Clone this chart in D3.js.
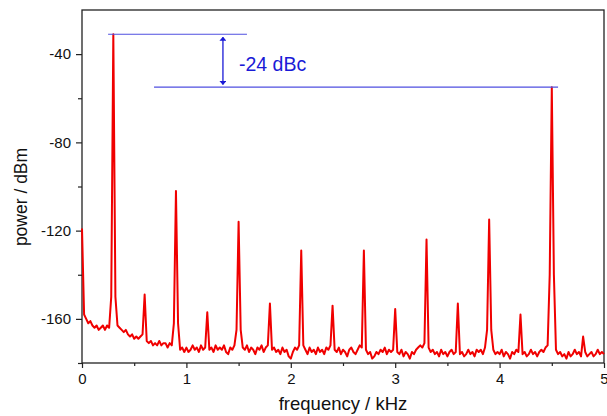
<!DOCTYPE html>
<html>
<head>
<meta charset="utf-8">
<script src="https://cdn.jsdelivr.net/npm/d3@7"></script>
<style>
  body { margin: 0; background: #fff; }
  text { font-family: Arial, "Liberation Sans", sans-serif; }
</style>
</head>
<body>
<div id="graph"></div>
<script>
/* spectrum trace, one value every 0.02 kHz from 0 to 5 kHz */
const fStep = 0.02;
const power = [
  -119, -158, -160, -162, -161, -163, -164, -163, -165, -164,
  -163, -165, -163, -164, -150,  -31, -150, -163, -164, -165,
  -166, -165, -167, -168, -167, -169, -168, -169, -168, -167,
  -149, -170, -171, -170, -172, -171, -172, -170, -172, -171,
  -171, -173, -171, -172, -162, -102, -162, -174, -173, -175,
  -173, -175, -174, -172, -174, -173, -175, -172, -174, -173,
  -157, -174, -173, -175, -172, -174, -173, -174, -172, -175,
  -176, -173, -174, -172, -165, -116, -165, -173, -174, -172,
  -175, -173, -174, -176, -173, -174, -172, -175, -173, -172,
  -153, -174, -173, -175, -174, -176, -173, -175, -174, -177,
  -178, -175, -173, -174, -172, -129, -172, -174, -176, -173,
  -175, -174, -176, -173, -175, -174, -176, -173, -174, -172,
  -154, -174, -175, -173, -176, -174, -175, -177, -174, -173,
  -175, -176, -174, -172, -173, -129, -174, -176, -175, -178,
  -177, -175, -176, -174, -175, -173, -176, -174, -175, -174,
  -155.5, -175, -176, -174, -177, -175, -176, -178, -175, -176,
  -174, -173, -172, -173, -171, -124, -173, -175, -174, -176,
  -175, -177, -174, -176, -175, -177, -175, -174, -176, -175,
  -153, -176, -175, -177, -176, -174, -176, -175, -177, -174,
  -175, -174, -176, -173, -165, -115, -165, -174, -176, -175,
  -176, -174, -177, -175, -176, -178, -175, -176, -174, -175,
  -158, -176, -175, -177, -176, -174, -176, -175, -177, -175,
  -174, -175, -173, -172, -140,  -55, -140, -174, -176, -175,
  -177, -176, -178, -175, -177, -176, -174, -176, -175, -177,
  -168, -175, -177, -176, -175, -177, -176, -174, -176, -175,
  -176
];

const xTicks = [0, 1, 2, 3, 4, 5];
const xMinor = [0.5, 1.5, 2.5, 3.5, 4.5];
const yTicks = [-160, -120, -80, -40];
const yMinor = [-180, -140, -100, -60];

/* the -24 dBc marker */
const refLevels = [-31, -55];
const refStart = [0.25, 0.69];
const refEnd = [1.58, 4.56];
const arrowFreq = 1.35;
const arrowEnds = [-32.3, -53.8];
const dbcLabel = "-24 dBc";

const W = 607, H = 416;
const M = { left: 82, right: 3, top: 10, bottom: 53 };

const svg = d3.select("#graph").append("svg").attr("width", W).attr("height", H);

const x = d3.scaleLinear().domain([0, 5]).range([M.left, W - M.right]);
const y = d3.scaleLinear().domain([-180, -20]).range([H - M.bottom, M.top]);

// plain hyphen for negatives, like the original plot
const fmt = d => String(d);

/* axes */
const gx = svg.append("g").attr("transform", "translate(0," + (H - M.bottom) + ")");
gx.call(d3.axisBottom(x).tickValues(xTicks).tickFormat(fmt).tickSize(5).tickPadding(5));
const gxm = svg.append("g").attr("transform", "translate(0," + (H - M.bottom) + ")");
gxm.call(d3.axisBottom(x).tickValues(xMinor).tickFormat("").tickSize(3));

const gy = svg.append("g").attr("transform", "translate(" + M.left + ",0)");
gy.call(d3.axisLeft(y).tickValues(yTicks).tickFormat(fmt).tickSize(6).tickPadding(5));
const gym = svg.append("g").attr("transform", "translate(" + M.left + ",0)");
gym.call(d3.axisLeft(y).tickValues(yMinor).tickFormat("").tickSize(4));

svg.selectAll(".domain").remove();
svg.selectAll(".tick line").attr("stroke", "#222").attr("stroke-width", 1.2);
svg.selectAll(".tick text").attr("font-size", 15).attr("fill", "#111")
  .style("font-family", "Arial, 'Liberation Sans', sans-serif");

/* frame */
svg.append("rect")
  .attr("x", x(0)).attr("y", y(-20))
  .attr("width", x(5) - x(0)).attr("height", y(-180) - y(-20))
  .attr("fill", "none").attr("stroke", "#222").attr("stroke-width", 1.3);

/* trace */
const line = d3.line()
  .x((d, i) => x(i * fStep))
  .y(d => y(d));

svg.append("path")
  .datum(power)
  .attr("d", line)
  .attr("fill", "none")
  .attr("stroke", "#f00000")
  .attr("stroke-width", 2)
  .attr("stroke-linejoin", "round");

/* reference lines */
svg.selectAll(".ref")
  .data(refLevels)
  .enter()
  .append("line")
  .attr("class", "ref")
  .attr("x1", (d, i) => x(refStart[i]))
  .attr("x2", (d, i) => x(refEnd[i]))
  .attr("y1", d => y(d))
  .attr("y2", d => y(d))
  .attr("stroke", "#4f4fe0")
  .attr("stroke-width", 1.2);

/* double arrow */
const defs = svg.append("defs");
defs.append("marker")
  .attr("id", "head")
  .attr("viewBox", "0 0 10 10")
  .attr("refX", 9).attr("refY", 5)
  .attr("markerWidth", 4).attr("markerHeight", 7)
  .attr("markerUnits", "userSpaceOnUse")
  .attr("orient", "auto-start-reverse")
  .attr("preserveAspectRatio", "none")
  .append("path")
  .attr("d", "M0,0 L10,5 L0,10 Z")
  .attr("fill", "#1a1ad6");

svg.append("line")
  .attr("x1", x(arrowFreq)).attr("x2", x(arrowFreq))
  .attr("y1", y(arrowEnds[0])).attr("y2", y(arrowEnds[1]))
  .attr("stroke", "#1a1ad6")
  .attr("stroke-width", 1.3)
  .attr("marker-start", "url(#head)")
  .attr("marker-end", "url(#head)");

svg.append("text")
  .attr("x", x(arrowFreq) + 16)
  .attr("y", y(-40) + 17)
  .attr("font-size", 19.5)
  .attr("fill", "#1a1ad6")
  .text(dbcLabel);

/* axis titles */
svg.append("text")
  .attr("x", (x(0) + x(5)) / 2)
  .attr("y", 410)
  .attr("text-anchor", "middle")
  .attr("font-size", 18.5)
  .attr("fill", "#111")
  .text("frequency / kHz");

svg.append("text")
  .attr("transform", "translate(27,197) rotate(-90)")
  .attr("text-anchor", "middle")
  .attr("font-size", 17.5)
  .attr("fill", "#111")
  .text("power / dBm");
</script>
</body>
</html>
